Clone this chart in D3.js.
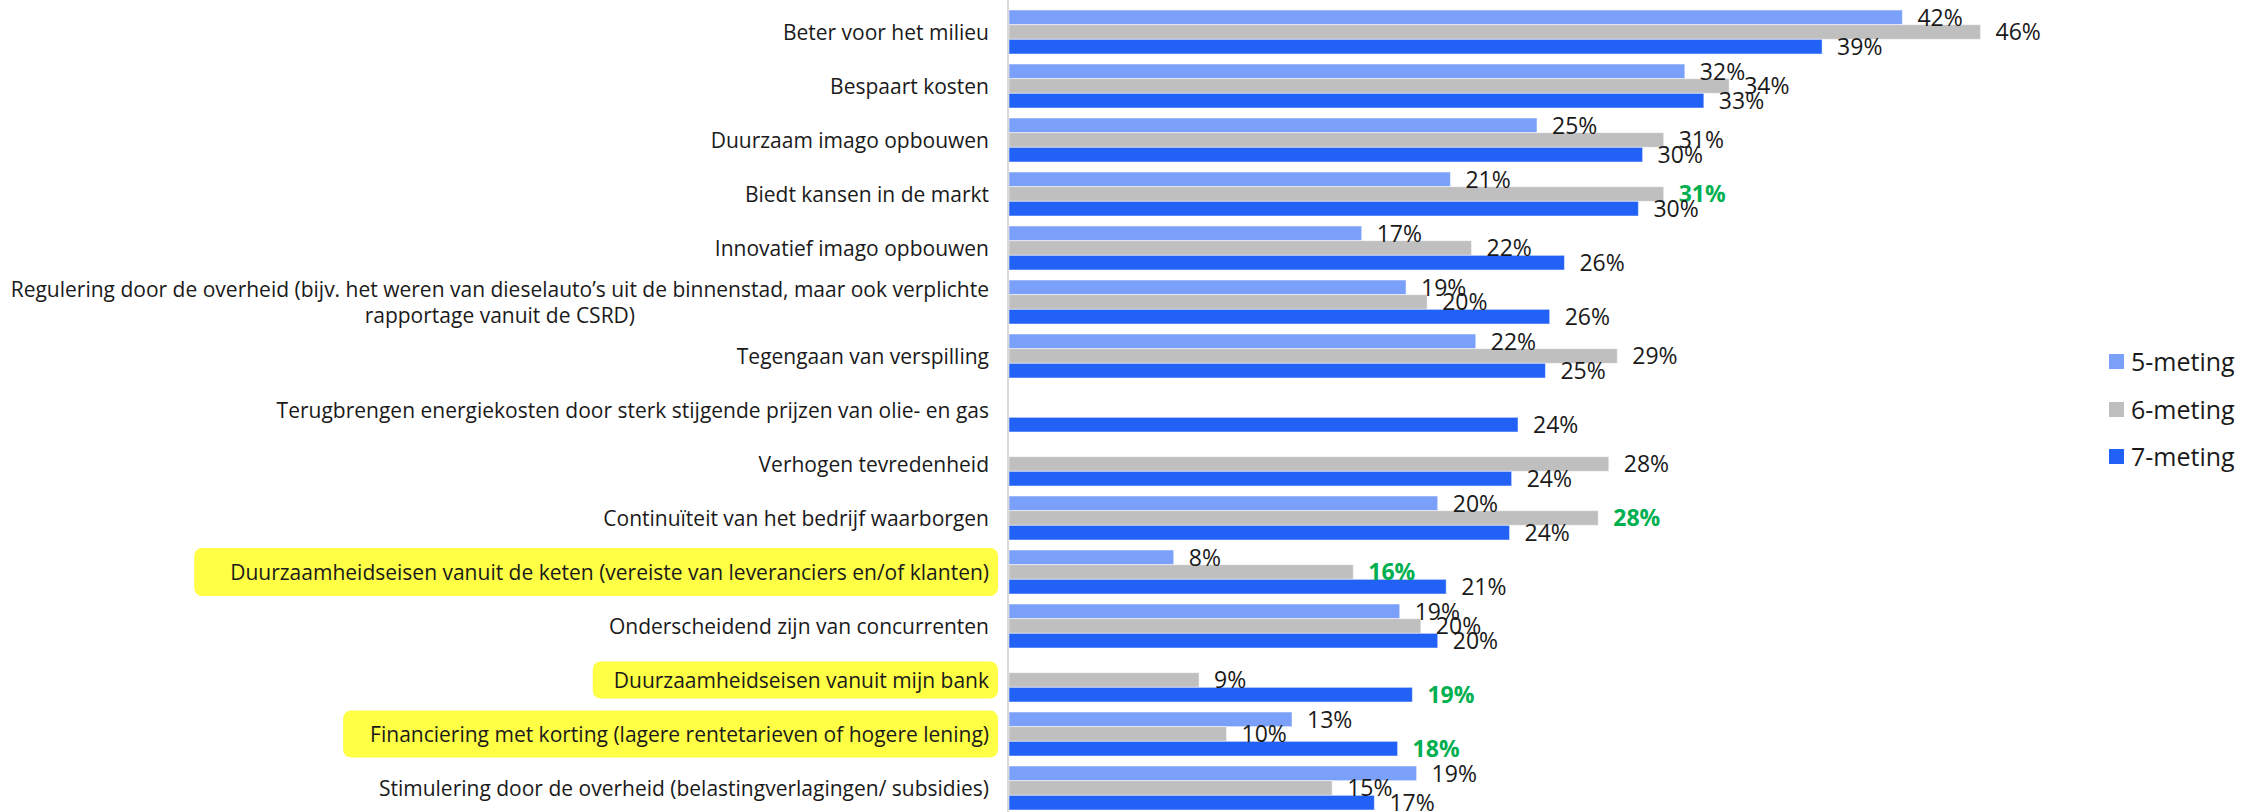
<!DOCTYPE html>
<html>
<head>
<meta charset="utf-8">
<script src="https://cdn.jsdelivr.net/npm/d3@7"></script>
<style>
  html, body { margin: 0; padding: 0; background: #ffffff; }
  svg { display: block; }
  text { font-family: "Open Sans", "Noto Sans", sans-serif; }
</style>
</head>
<body>
<svg id="chart" width="2264" height="812"></svg>
<script>
// ---------------- DATA ----------------
const categories = [
  "Beter voor het milieu",
  "Bespaart kosten",
  "Duurzaam imago opbouwen",
  "Biedt kansen in de markt",
  "Innovatief imago opbouwen",
  "Regulering door de overheid (bijv. het weren van dieselauto\u2019s uit de binnenstad, maar ook verplichte\nrapportage vanuit de CSRD)",
  "Tegengaan van verspilling",
  "Terugbrengen energiekosten door sterk stijgende prijzen van olie- en gas",
  "Verhogen tevredenheid",
  "Continu\u00efteit van het bedrijf waarborgen",
  "Duurzaamheidseisen vanuit de keten (vereiste van leveranciers en/of klanten)",
  "Onderscheidend zijn van concurrenten",
  "Duurzaamheidseisen vanuit mijn bank",
  "Financiering met korting (lagere rentetarieven of hogere lening)",
  "Stimulering door de overheid (belastingverlagingen/ subsidies)"
];

const seriesNames = ["5-meting", "6-meting", "7-meting"];

// values in percent (null = not measured)
const meting5 = [42.3, 32.0, 25.0, 20.9, 16.7, 18.8, 22.1, null, null, 20.3, 7.8, 18.5, null, 13.4, 19.3];
const meting6 = [46.0, 34.1, 31.0, 31.0, 21.9, 19.8, 28.8, null, 28.4, 27.9, 16.3, 19.5, 9.0, 10.3, 15.3];
const meting7 = [38.5, 32.9, 30.0, 29.8, 26.3, 25.6, 25.4, 24.1, 23.8, 23.7, 20.7, 20.3, 19.1, 18.4, 17.3];

// highlighted category labels (yellow boxes)
const highlightedCategories = [
  "Duurzaamheidseisen vanuit de keten (vereiste van leveranciers en/of klanten)",
  "Duurzaamheidseisen vanuit mijn bank",
  "Financiering met korting (lagere rentetarieven of hogere lening)"
];

// value labels shown in green bold
const greenLabels = [
  ["Biedt kansen in de markt", "6-meting"],
  ["Continu\u00efteit van het bedrijf waarborgen", "6-meting"],
  ["Duurzaamheidseisen vanuit de keten (vereiste van leveranciers en/of klanten)", "6-meting"],
  ["Duurzaamheidseisen vanuit mijn bank", "7-meting"],
  ["Financiering met korting (lagere rentetarieven of hogere lening)", "7-meting"]
];

// ---------------- LAYOUT / STYLE ----------------
const colors = { "5-meting": "#7ba0f9", "6-meting": "#bfbfbf", "7-meting": "#2161f6" };
const seriesValues = { "5-meting": meting5, "6-meting": meting6, "7-meting": meting7 };

const axisX = 1009;
const svg = d3.select("#chart");

const y = d3.scaleBand()
  .domain(categories)
  .range([5, 815])
  .paddingInner(10 / 54)
  .paddingOuter(5 / 54);

const ySub = d3.scaleBand()
  .domain(seriesNames)
  .range([0, y.bandwidth()])
  .padding(0);

const x = d3.scaleLinear()
  .domain([0, 50])
  .range([axisX, axisX + 1056]);

// highlight boxes (drawn behind labels)
const boxStyle = {
  "Duurzaamheidseisen vanuit de keten (vereiste van leveranciers en/of klanten)": { padL: 36, h: 48 },
  "Duurzaamheidseisen vanuit mijn bank": { padL: 21, h: 37 },
  "Financiering met korting (lagere rentetarieven of hogere lening)": { padL: 27, h: 47 }
};
const boxLayer = svg.append("g");

// category labels
const labelRight = 989;
const catFont = 21;
const catG = svg.append("g");
categories.forEach(c => {
  const lines = c.split("\n");
  const cy = y(c) + y.bandwidth() / 2;
  const lh = 26;
  if (lines.length === 1) {
    catG.append("text")
      .attr("x", labelRight)
      .attr("y", cy)
      .attr("dy", "0.36em")
      .attr("text-anchor", "end")
      .attr("font-size", catFont)
      .attr("fill", "#1a1a1a")
      .attr("class", "cat")
      .attr("data-cat", c)
      .text(c);
  } else {
    const t = catG.append("text")
      .attr("font-size", catFont)
      .attr("fill", "#1a1a1a");
    const tspans = lines.map((ln, i) => t.append("tspan")
      .attr("x", 0)
      .attr("y", cy + (i - (lines.length - 1) / 2) * lh)
      .attr("dy", "0.36em")
      .attr("text-anchor", "middle")
      .text(ln));
    const maxW = d3.max(tspans, s => s.node().getComputedTextLength());
    tspans.forEach(s => s.attr("x", labelRight - maxW / 2));
  }
});

// draw boxes sized to label text
catG.selectAll("text.cat").each(function () {
  const c = this.getAttribute("data-cat");
  if (!highlightedCategories.includes(c)) return;
  const bb = this.getBBox();
  const st = boxStyle[c];
  const cy = y(c) + y.bandwidth() / 2;
  boxLayer.append("rect")
    .attr("x", bb.x - st.padL)
    .attr("y", cy - st.h / 2)
    .attr("width", 998 - (bb.x - st.padL))
    .attr("height", st.h)
    .attr("rx", 8)
    .attr("ry", 8)
    .attr("fill", "#ffff45");
});

// bars
const barG = svg.append("g");
categories.forEach((c, i) => {
  seriesNames.forEach(s => {
    const v = seriesValues[s][i];
    if (v === null) return;
    barG.append("rect")
      .attr("x", x(0))
      .attr("y", y(c) + ySub(s))
      .attr("width", x(v) - x(0))
      .attr("height", ySub.bandwidth())
      .attr("fill", colors[s])
      .attr("stroke", "#ffffff")
      .attr("stroke-opacity", 0.5)
      .attr("stroke-width", 1);
  });
});

// axis line
svg.append("line")
  .attr("x1", axisX - 1).attr("x2", axisX - 1)
  .attr("y1", 0).attr("y2", 812)
  .attr("stroke", "#d9d9d9")
  .attr("stroke-width", 2);

// value labels
const isGreen = (c, s) => greenLabels.some(g => g[0] === c && g[1] === s);
const valG = svg.append("g");
categories.forEach((c, i) => {
  seriesNames.forEach(s => {
    const v = seriesValues[s][i];
    if (v === null) return;
    const g = isGreen(c, s);
    valG.append("text")
      .attr("x", x(v) + 15)
      .attr("y", y(c) + ySub(s) + ySub.bandwidth() / 2)
      .attr("dy", "0.36em")
      .attr("font-size", 23)
      .attr("font-weight", g ? 700 : 400)
      .attr("fill", g ? "#00b050" : "#1a1a1a")
      .text(Math.round(v) + "%");
  });
});

// legend
const legend = svg.append("g");
const legendTop = [354, 402, 449];
seriesNames.forEach((s, i) => {
  legend.append("rect")
    .attr("x", 2109).attr("y", legendTop[i])
    .attr("width", 15).attr("height", 15)
    .attr("fill", colors[s]);
  legend.append("text")
    .attr("x", 2131).attr("y", legendTop[i] + 7.5)
    .attr("dy", "0.36em")
    .attr("font-size", 25)
    .attr("fill", "#1a1a1a")
    .text(s);
});
</script>
</body>
</html>
